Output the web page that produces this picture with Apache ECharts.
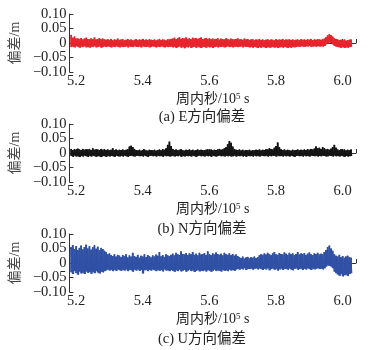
<!DOCTYPE html>
<html>
<head>
<meta charset="utf-8">
<script src="https://cdn.jsdelivr.net/npm/echarts@6/dist/echarts.min.js"></script>
<style>
  html, body { margin: 0; padding: 0; background: #fff; }
  #chart { width: 372px; height: 350px; }
</style>
</head>
<body>
<div id="chart"></div>
<script>
// Sampling of the time axis (unit: 10^5 s of week)
const tStart = 5.185;
const tStep = 0.005;

// x-axis tick values and tick labels
const xTickValues = [5.2, 5.4, 5.6, 5.8, 6.0, 6.04];
const xLabelValues = [5.2, 5.4, 5.6, 5.8, 6.0];

// Per-bin upper / lower envelope of the position error, in millimetres
const eHi = [
  28,18,22,15,16,13,17,12,15,18, 14,12,16,13,19,12,14,17,13,15,
  12,11,13,10,14,9,12,11,15,10, 12,13,9,11,14,10,12,9,11,13,
  10,12,11,14,9,12,10,13,11,10, 12,9,11,14,10,12,11,9,13,12,
  14,15,18,13,16,20,14,17,15,19, 14,16,13,18,15,17,14,16,19,13,
  15,17,14,16,13,15,12,14,16,11, 15,13,12,16,14,11,15,13,12,14,
  16,12,13,11,15,12,14,10,12,13, 9,12,11,14,10,12,9,11,13,10,
  12,11,9,13,10,12,11,14,10,12, 11,13,10,12,9,11,12,10,13,11,
  12,10,13,11,14,10,12,11,13,12, 11,13,15,20,26,30,27,22,16,14,
  12,10,11,9,12,8,10,11,12
];
const eLo = [
  -14,-12,-15,-11,-13,-16,-12,-14,-11,-15, -13,-16,-12,-14,-11,-15,-13,-12,-16,-14,
  -12,-14,-11,-13,-15,-12,-14,-11,-13,-15, -12,-14,-13,-11,-15,-12,-13,-14,-11,-13,
  -14,-12,-15,-11,-13,-14,-12,-15,-13,-11, -13,-15,-12,-14,-11,-13,-15,-12,-14,-13,
  -12,-15,-13,-17,-14,-12,-16,-13,-18,-14, -15,-12,-17,-14,-13,-16,-12,-15,-17,-13,
  -14,-16,-12,-15,-13,-17,-14,-12,-15,-13, -14,-12,-15,-13,-11,-14,-12,-15,-13,-12,
  -14,-13,-11,-15,-12,-14,-13,-15,-14,-16, -13,-15,-17,-14,-16,-13,-15,-17,-14,-16,
  -15,-13,-16,-14,-17,-15,-13,-16,-14,-15, -17,-14,-16,-13,-15,-14,-12,-13,-11,-12,
  -13,-11,-12,-10,-13,-12,-11,-13,-10,-12, -11,-12,-10,-4,-1,2,0,-5,-10,-12,
  -14,-15,-16,-14,-17,-15,-16,-14,-13
];

const nHi = [
  14,10,13,11,15,12,10,14,11,13, 12,14,10,16,11,13,12,10,14,11,
  13,10,12,9,11,16,10,12,9,11, 10,12,9,11,13,22,25,20,14,10,
  9,11,8,10,12,9,8,11,10,9, 11,8,10,12,9,13,11,16,28,39,
  24,14,10,12,9,11,13,10,8,11, 10,12,9,11,8,10,12,9,11,10,
  9,11,13,10,12,9,11,10,12,14, 11,13,16,20,30,41,35,22,14,11,
  10,12,9,11,8,10,9,11,8,10, 9,11,10,12,9,11,10,13,12,16,
  14,12,18,24,36,20,13,10,12,9, 11,10,8,11,9,10,12,9,11,10,
  12,10,13,11,14,12,15,22,16,18, 14,20,16,12,14,11,15,20,28,18,
  12,10,13,11,12,9,11,10,12
];
const nLo = [
  -10,-13,-9,-12,-11,-14,-10,-12,-9,-11, -13,-10,-12,-9,-11,-13,-10,-12,-14,-10,
  -11,-13,-9,-12,-10,-11,-13,-9,-11,-12, -10,-12,-9,-11,-13,-10,-9,-11,-12,-10,
  -9,-11,-10,-12,-9,-11,-13,-10,-9,-11, -10,-12,-9,-11,-10,-13,-9,-11,-10,-12,
  -11,-9,-12,-10,-11,-9,-13,-10,-12,-9, -11,-10,-12,-9,-11,-13,-10,-9,-11,-10,
  -12,-9,-11,-10,-13,-9,-11,-12,-10,-9, -11,-10,-12,-9,-11,-10,-12,-11,-9,-12,
  -10,-11,-9,-12,-10,-13,-9,-11,-10,-12, -9,-11,-10,-12,-9,-10,-11,-9,-12,-10,
  -11,-9,-10,-12,-9,-11,-10,-12,-9,-11, -10,-12,-9,-11,-13,-10,-9,-11,-10,-12,
  -9,-11,-10,-12,-9,-10,-11,-9,-12,-10, -11,-9,-10,-12,-11,-9,-10,-12,-9,-11,
  -10,-12,-9,-11,-13,-10,-12,-11,-10
];

const uHi = [
  55,62,48,58,45,52,60,47,55,63, 50,58,46,54,61,49,56,44,52,48,
  42,38,30,33,27,24,30,22,28,25, 20,27,23,30,19,26,22,35,24,21,
  28,18,25,22,30,20,27,24,19,26, 22,29,25,38,23,27,21,30,26,24,
  28,32,26,35,30,27,40,31,29,34, 27,33,30,38,28,32,26,35,29,31,
  34,28,40,30,27,33,29,36,31,28, 32,26,35,30,28,33,27,31,25,29,
  24,20,17,22,15,19,21,16,20,18, 22,17,20,26,30,28,33,29,35,31,
  27,33,38,30,28,34,31,29,36,32, 28,35,30,33,27,31,38,29,33,30,
  34,28,32,36,30,27,33,31,35,29, 32,30,38,45,55,60,50,42,30,25,
  22,28,20,24,18,22,25,20,18
];
const uLo = [
  -32,-38,-28,-35,-40,-30,-36,-33,-38,-29, -34,-31,-37,-30,-35,-28,-33,-36,-30,-32,
  -28,-25,-22,-26,-23,-28,-24,-27,-22,-25, -27,-23,-26,-22,-28,-24,-25,-30,-23,-26,
  -22,-27,-24,-36,-25,-23,-28,-24,-26,-22, -25,-28,-23,-27,-24,-29,-22,-26,-25,-28,
  -24,-27,-30,-25,-28,-23,-29,-26,-24,-30, -26,-23,-28,-25,-31,-27,-24,-29,-26,-28,
  -25,-29,-24,-27,-30,-26,-23,-28,-25,-27, -29,-24,-27,-25,-28,-23,-26,-24,-27,-22,
  -20,-23,-19,-22,-18,-24,-20,-21,-19,-23, -20,-18,-22,-19,-21,-24,-20,-22,-18,-25,
  -21,-19,-23,-20,-26,-22,-19,-24,-21,-20, -23,-19,-22,-25,-20,-18,-23,-21,-19,-24,
  -20,-22,-18,-21,-24,-19,-22,-20,-17,-21, -19,-22,-18,-12,-8,-10,-12,-18,-30,-35,
  -40,-44,-38,-46,-42,-40,-45,-38,-35
];

const captions = ['(a) E方向偏差', '(b) N方向偏差', '(c) U方向偏差'];
const colors = ['#e8232c', '#141414', '#3050a6'];

// Rows of [time, upper, lower] in metres, one per bin
function bins(hi, lo) {
  return hi.map((h, i) => [tStart + i * tStep, h / 1000, lo[i] / 1000]);
}

// Dense error trace: each bin swings from its upper to its lower value
function trace(hi, lo) {
  const pts = [];
  for (let i = 0; i < hi.length; i++) {
    const t = tStart + i * tStep;
    pts.push([t, hi[i] / 1000]);
    pts.push([t + tStep / 2, lo[i] / 1000]);
  }
  return pts;
}

// Vertical span from lower to upper value for each bin
function renderSpan(params, api) {
  const top = api.coord([api.value(0), api.value(1)]);
  const bot = api.coord([api.value(0), api.value(2)]);
  const w = api.size([tStep, 0])[0] + 0.2;
  return {
    type: 'rect',
    shape: { x: top[0] - w / 2, y: top[1], width: w, height: Math.max(1, bot[1] - top[1]) },
    style: { fill: api.visual('color') }
  };
}

const fontStack = '"Liberation Serif", "Noto Sans CJK SC", serif';
const textColor = '#222';
const axisColor = '#333';
const gridTops = [14, 124, 234];
const captionTops = [105, 217, 327];

const grids = [], xAxes = [], yAxes = [], series = [], titles = [];
const sets = [[eHi, eLo], [nHi, nLo], [uHi, uLo]];

for (let k = 0; k < 3; k++) {
  grids.push({ left: 61, top: gridTops[k], width: 295, height: 58 });
  xAxes.push({
    type: 'value', gridIndex: k, min: 5.18, max: 6.04,
    axisLine: { show: true, lineStyle: { color: axisColor, width: 1 } },
    axisTick: { show: true, inside: true, length: 4, customValues: xTickValues,
                lineStyle: { color: axisColor } },
    axisLabel: { customValues: xLabelValues, formatter: v => v.toFixed(1),
                 fontFamily: fontStack, fontSize: 14.5, color: textColor, margin: 2 },
    splitLine: { show: false },
    name: '周内秒/10{sup|5} s', nameLocation: 'middle', nameGap: 20,
    nameTextStyle: {
      fontFamily: fontStack, fontSize: 14, color: textColor,
      rich: { sup: { fontFamily: fontStack, fontSize: 9, color: textColor, verticalAlign: 'top', padding: [0, 0, 6, 0] } }
    }
  });
  yAxes.push({
    type: 'value', gridIndex: k, min: -0.1, max: 0.1, interval: 0.05,
    axisLine: { show: true, lineStyle: { color: axisColor, width: 1 } },
    axisTick: { show: true, inside: true, length: 4, lineStyle: { color: axisColor } },
    axisLabel: {
      formatter: v => Math.abs(v) < 1e-9 ? '0' : (v < 0 ? '\u2212' : '') + Math.abs(v).toFixed(2),
      fontFamily: fontStack, fontSize: 14.5, color: textColor, margin: 3
    },
    splitLine: { show: false },
    name: '偏差/m', nameLocation: 'middle', nameRotate: 90, nameGap: 40,
    nameTextStyle: { fontFamily: fontStack, fontSize: 14, color: '#444' }
  });
  series.push({
    type: 'custom', xAxisIndex: k, yAxisIndex: k,
    data: bins(sets[k][0], sets[k][1]),
    renderItem: renderSpan,
    itemStyle: { color: colors[k] },
    silent: true
  });
  series.push({
    type: 'line', xAxisIndex: k, yAxisIndex: k,
    data: trace(sets[k][0], sets[k][1]),
    symbol: 'none', showSymbol: false, sampling: null,
    lineStyle: { color: colors[k], width: 1 },
    silent: true
  });
  titles.push({
    text: captions[k], left: 197, top: captionTops[k], textAlign: 'center',
    textStyle: { fontFamily: fontStack, fontSize: 14.5, fontWeight: 'normal', color: textColor }
  });
}

const chart = echarts.init(document.getElementById('chart'), null, { renderer: 'canvas' });
chart.setOption({
  animation: false,
  backgroundColor: '#fff',
  title: titles,
  grid: grids,
  xAxis: xAxes,
  yAxis: yAxes,
  series: series
});
</script>
</body>
</html>
